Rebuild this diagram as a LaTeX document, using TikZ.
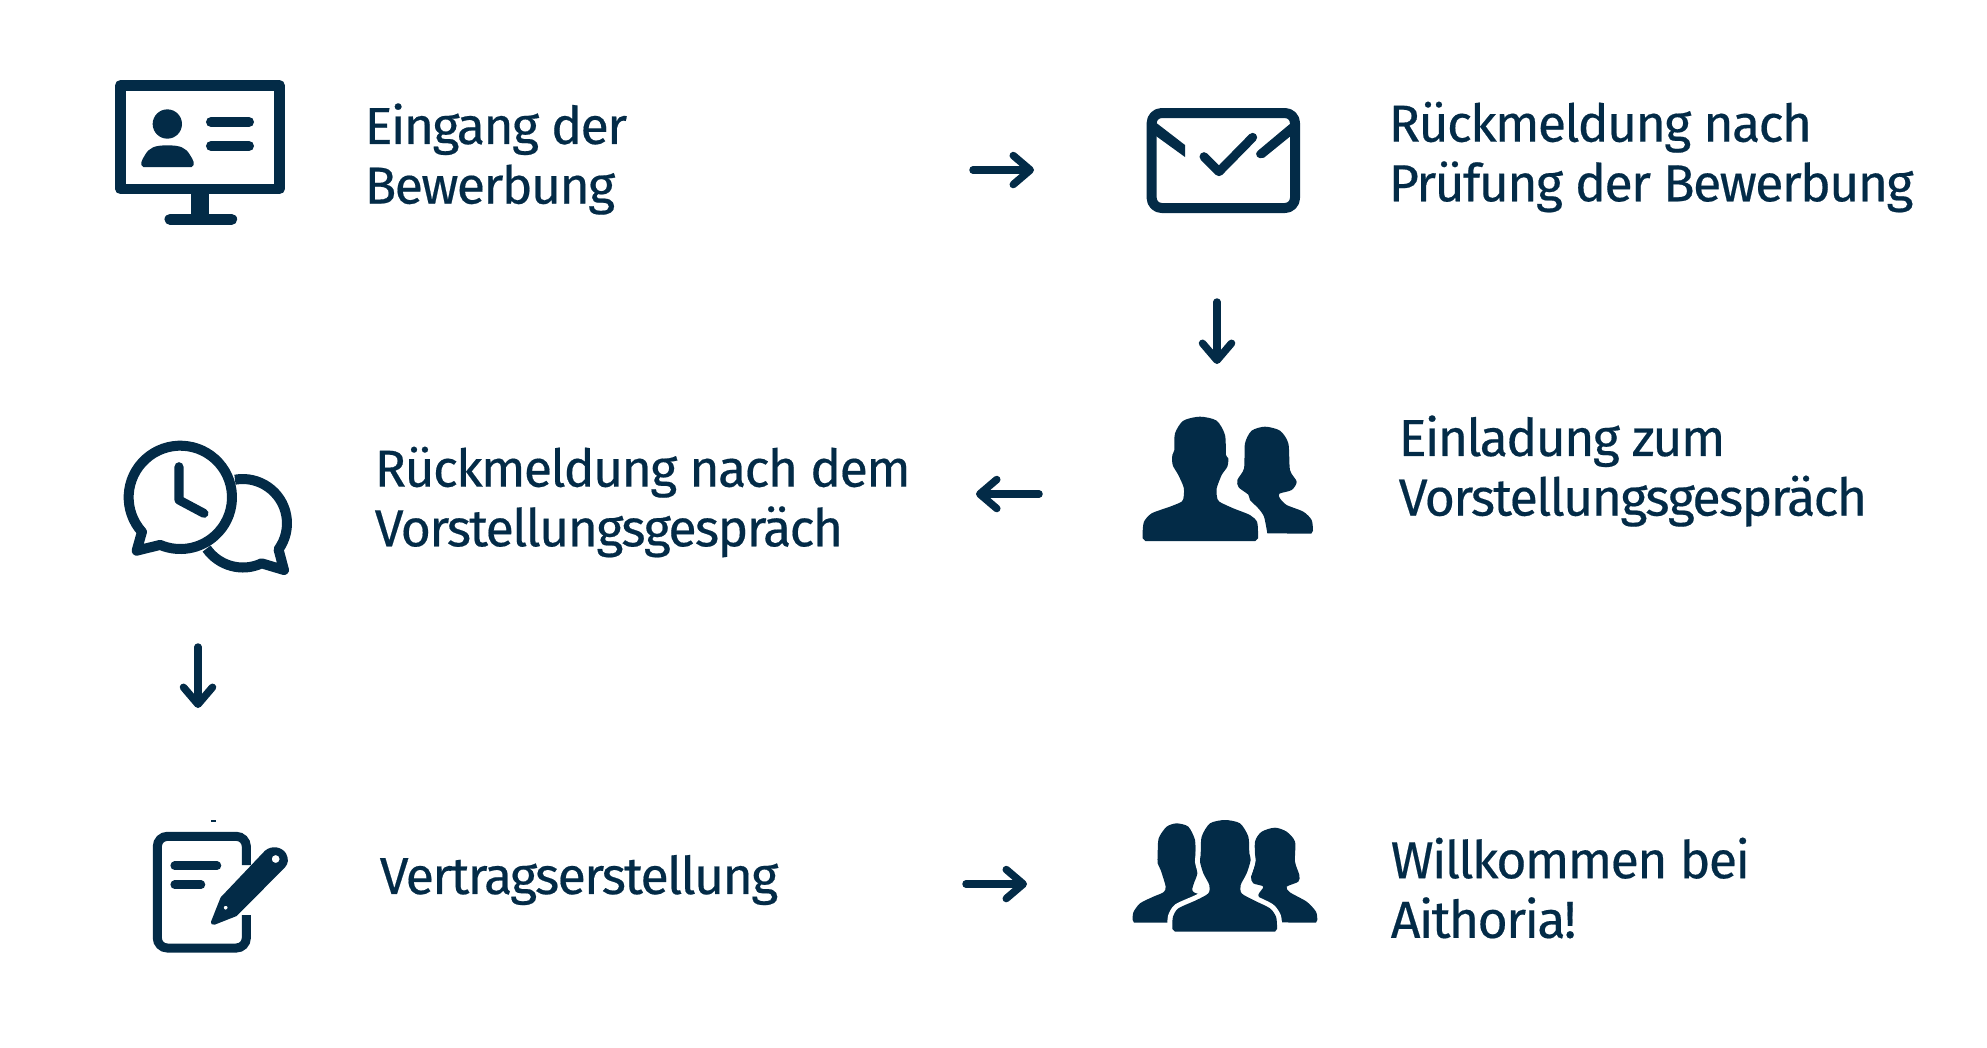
\documentclass[tikz,border=0pt]{standalone}
\usepackage{fontspec}
\setmainfont[LetterSpace=-3.4, FakeBold=0.35]{Fira Sans}
\usetikzlibrary{arrows.meta}
\definecolor{aithorianavy}{HTML}{032B47}
\tikzset{
  steptext/.style={anchor=west, inner sep=0pt, align=left, text=aithorianavy, font=\fontsize{14.8}{16.95}\selectfont},
  flowarrow/.style={aithorianavy, line width=0.075cm, line cap=round, -{Straight Barb[round, length=0.17cm, width=0.29cm]}},
  iconline/.style={aithorianavy, line width=0.1cm, line join=round},
  iconbar/.style={aithorianavy, line width=0.09cm, line cap=round},
  iconfill/.style={fill=aithorianavy},
  halo/.style={preaction={draw=white, line width=0.1cm}, fill=aithorianavy},
  zoomed/.style={shift={#1}, scale=0.33333}
}
\begin{document}
\begin{tikzpicture}[x=0.01cm,y=-0.01cm]
  \useasboundingbox (0,0) rectangle (1987,1047);

  \node[steptext] (eingang) at (364,159) {Eingang der\\Bewerbung};
  \node[steptext] (pruefung) at (1388,157) {Rückmeldung nach\\Prüfung der Bewerbung};
  \node[steptext] (einladung) at (1398,471) {Einladung zum\\Vorstellungsgespräch};
  \node[steptext] (gespraech) at (374,502) {Rückmeldung nach dem\\Vorstellungsgespräch};
  \node[steptext] (vertrag) at (379,880) {Vertragserstellung};
  \node[steptext] (willkommen) at (1390,888) {Willkommen bei\\Aithoria!};

  % arrows
  \coordinate (eingangOut) at (973,170);
  \coordinate (pruefungIn) at (1034,170);
  \coordinate (pruefungOut) at (1217,302);
  \coordinate (einladungIn) at (1217,364);
  \coordinate (einladungOut) at (1039,494);
  \coordinate (gespraechIn) at (976,494);
  \coordinate (gespraechOut) at (198,647);
  \coordinate (vertragIn) at (198,708);
  \coordinate (vertragOut) at (966,884);
  \coordinate (willkommenIn) at (1027,884);
  \draw[flowarrow] (eingangOut) -- (pruefungIn);
  \draw[flowarrow] (pruefungOut) -- (einladungIn);
  \draw[flowarrow] (einladungOut) -- (gespraechIn);
  \draw[flowarrow] (gespraechOut) -- (vertragIn);
  \draw[flowarrow] (vertragOut) -- (willkommenIn);

  % monitor
  \begin{scope}[zoomed={(90,60)}]
    \draw[iconline, line width=0.105cm] (91,76) rectangle (568,387);
    \fill[iconfill] (303,400) rectangle (357,470);
    \draw[iconbar, line width=0.11cm] (240,478) -- (425,478);
    \fill[iconfill] (232,192) circle[radius=44];
    \fill[iconfill] (160,321) .. controls (148,315) and (155,300) .. (165,285) .. controls (178,262) and (195,256) .. (232,256) .. controls (270,256) and (287,262) .. (300,285) .. controls (310,300) and (318,315) .. (305,321) -- cycle;
    \draw[iconbar, line width=0.1cm] (363,186) -- (477,186);
    \draw[iconbar, line width=0.1cm] (363,258) -- (477,258);
  \end{scope}

  % envelope
  \begin{scope}[zoomed={(1120,90)}]
    \draw[iconline, rounded corners=0.1cm] (95,69) rectangle (525,354);
    \fill[iconfill] (108,98) -- (195,165) -- (195,201) -- (108,138) -- cycle;
    \fill[iconfill] (512,100) -- (512,138) -- (432,203) .. controls (415,210) and (400,195) .. (414,182) -- cycle;
    \draw[iconbar, line join=round] (252,200) -- (297,245) -- (398,142);
  \end{scope}

  % two people
  \begin{scope}[zoomed={(1120,400)}]
    \fill[iconfill] plot[smooth, tension=0.45] coordinates {(442,400) (432,350) (415,325) (390,300) (385,284) (356,262) (352,240) (372,205) (375,130) (395,92) (435,80) (480,92) (505,130) (510,210) (530,245) (515,270) (478,281) (480,295) (500,315) (550,335) (575,360) (579,392)} -- (574,401) -- cycle;
    \fill[iconfill] plot[smooth, tension=0.45] coordinates {(68,395) (72,365) (95,340) (150,320) (185,305) (191,290) (191,262) (175,225) (158,195) (157,165) (163,150) (165,100) (190,62) (240,50) (290,62) (315,105) (318,165) (325,175) (322,200) (305,225) (290,265) (291,290) (298,305) (340,325) (390,345) (411,365) (414,395)} -- (414,415) -- (406,423) -- (76,423) -- (68,415) -- cycle;
  \end{scope}

  % speech bubbles
  \begin{scope}[zoomed={(110,430)}]
    \draw[iconline] (398,280) ++(260:133) arc[start angle=260, end angle=396, radius=133] -- (522,420) -- (455,400) arc[start angle=65, end angle=145, radius=133];
    \draw[iconline] (211,202) ++(138:155) arc[start angle=138, end angle=473, radius=155] -- (80,362) -- cycle;
    \draw[iconbar, line join=round] (207,110) -- (207,210) -- (282,250);
  \end{scope}

  % contract
  \begin{scope}[zoomed={(140,810)}]
    \fill[iconfill] (214,31) rectangle (228,35);
    \draw[iconbar, line cap=butt, rounded corners=0.1cm] (319,165) -- (319,79) -- (52,79) -- (52,414) -- (319,414) -- (319,315);
    \draw[iconbar, line width=0.085cm] (104,167) -- (231,167);
    \draw[iconbar, line width=0.085cm] (104,224) -- (183,224);
    \fill[iconfill, even odd rule] (213,335) -- (242,262) -- (375,122) .. controls (395,105) and (425,110) .. (438,130) .. controls (447,148) and (445,160) .. (435,172) -- (290,318) -- (224,344) .. controls (215,345) and (212,342) .. (213,335) -- cycle (407,147) circle[radius=12] (257,293) circle[radius=6];
  \end{scope}

  % team
  \begin{scope}[zoomed={(1120,805)}]
    \fill[iconfill] plot[smooth, tension=0.45] coordinates {(440,352) (430,300) (415,270) (430,245) (400,235) (393,215) (405,175) (405,110) (425,80) (465,68) (500,80) (525,110) (525,170) (538,210) (535,230) (500,245) (510,262) (560,290) (588,320) (592,345)} -- (588,353) -- cycle;
    \fill[iconfill] plot[smooth, tension=0.45] coordinates {(38,345) (40,322) (60,295) (100,275) (130,262) (137,245) (122,195) (113,175) (113,150) (116,100) (140,65) (170,55) (205,65) (225,105) (227,155) (232,205) (220,240) (222,262) (300,290) (300,345)} -- (300,353) -- (42,353) -- cycle;
    \fill[halo] plot[smooth, tension=0.45] coordinates {(157,360) (159,335) (175,310) (230,285) (265,265) (268,240) (250,205) (240,170) (242,150) (245,95) (270,55) (315,45) (360,55) (385,95) (388,145) (392,165) (380,205) (362,240) (365,265) (400,285) (450,310) (468,335) (471,360)} -- (471,372) -- (465,380) -- (165,380) -- (157,372) -- cycle;
  \end{scope}
\end{tikzpicture}
\end{document}
